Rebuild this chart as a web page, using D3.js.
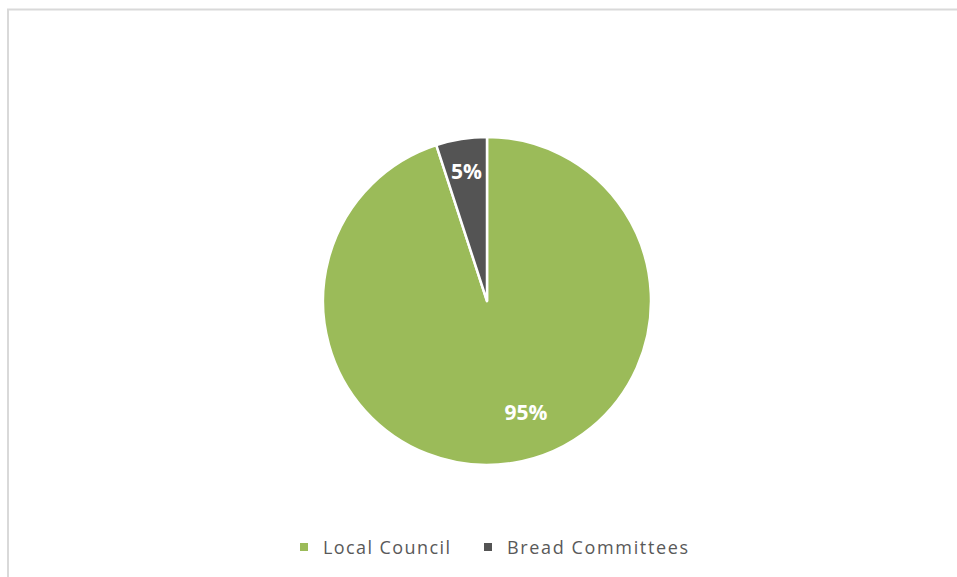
<!DOCTYPE html>
<html>
<head>
<meta charset="utf-8">
<script src="https://cdn.jsdelivr.net/npm/d3@7"></script>
<style>
  html, body { margin: 0; padding: 0; background: #fff; }
  svg { display: block; }
</style>
</head>
<body>
<svg id="chart" width="957" height="577"></svg>
<script>
// Share of bread distribution by body
const categories = ["Local Council", "Bread Committees"];
const shares = [95, 5];
const colors = ["#9bbb59", "#545454"];

const svg = d3.select("#chart");
const W = 957, H = 577;

// chart area frame (runs past the right and bottom edges)
svg.append("rect")
  .attr("x", 8).attr("y", 9.5)
  .attr("width", W + 20).attr("height", H + 20)
  .attr("fill", "#fff")
  .attr("stroke", "#d9d9d9")
  .attr("stroke-width", 2);

const cx = 487, cy = 301, R = 164;

const pie = d3.pie().sort(null).value(d => d.v);
const arcs = pie(categories.map((c, i) => ({ c, v: shares[i], i })));
const arc = d3.arc().innerRadius(0).outerRadius(R);

const g = svg.append("g").attr("transform", `translate(${cx},${cy})`);

g.selectAll("path")
  .data(arcs)
  .join("path")
  .attr("d", arc)
  .attr("fill", d => colors[d.data.i])
  .attr("stroke", "#fff")
  .attr("stroke-width", 2.5)
  .attr("stroke-linejoin", "round");

// data labels: small slice near the rim, large slice pulled toward the lower right
g.selectAll("text.lbl")
  .data(arcs)
  .join("text")
  .attr("class", "lbl")
  .each(function (d) {
    const mid = (d.startAngle + d.endAngle) / 2;
    const big = d.data.v > 50;
    const ang = big ? mid - 0.18 : mid;
    const r = big ? R * 0.72 : R * 0.8;
    const [x, y] = d3.pointRadial(ang, r);
    d3.select(this).attr("x", x).attr("y", y);
  })
  .attr("text-anchor", "middle")
  .attr("dominant-baseline", "central")
  .attr("fill", "#fff")
  .attr("font-family", "Open Sans, sans-serif")
  .attr("font-weight", "bold")
  .attr("font-size", 21)
  .text(d => d.data.v + "%");

// legend
const legend = svg.append("g").attr("font-family", "Open Sans, sans-serif")
  .attr("font-size", 18).attr("fill", "#595959");
const legendX = [300, 484];
const legendTextW = [127, 181];
categories.forEach((c, i) => {
  legend.append("rect")
    .attr("x", legendX[i]).attr("y", 543)
    .attr("width", 8).attr("height", 8)
    .attr("fill", colors[i]);
  legend.append("text")
    .attr("x", legendX[i] + 23).attr("y", 554)
    .attr("textLength", legendTextW[i])
    .attr("lengthAdjust", "spacing")
    .text(c);
});
</script>
</body>
</html>
